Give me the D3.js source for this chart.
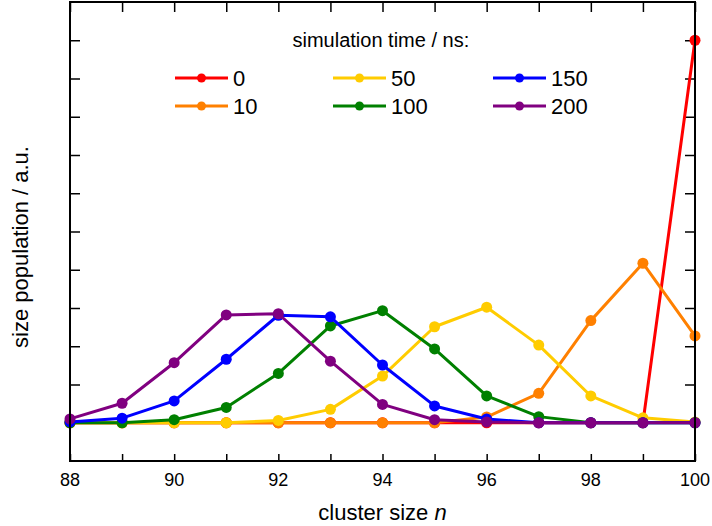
<!DOCTYPE html>
<html>
<head>
<meta charset="utf-8">
<script src="https://cdn.jsdelivr.net/npm/d3@7"></script>
<style>
  html, body { margin: 0; padding: 0; background: #fff; }
  svg { display: block; font-family: "Liberation Sans", Arial, sans-serif; }
</style>
</head>
<body>
<svg id="chart" width="712" height="526"></svg>
<script>
// Cluster sizes on the x axis
const clusterSizes = [88, 89, 90, 91, 92, 93, 94, 95, 96, 97, 98, 99, 100];

// Size population (a.u.) at each simulation time
const pop0   = [0, 0, 0, 0, 0, 0, 0, 0, 0, 0, 0, 0, 10];
const pop10  = [0, 0, 0, 0, 0, 0, 0, 0, 0.15, 0.77, 2.67, 4.17, 2.27];
const pop50  = [0, 0, 0, 0, 0.06, 0.35, 1.22, 2.51, 3.02, 2.03, 0.70, 0.13, 0.02];
const pop100 = [0, 0, 0.08, 0.40, 1.29, 2.53, 2.93, 1.93, 0.70, 0.16, 0, 0, 0];
const pop150 = [0.02, 0.12, 0.57, 1.66, 2.81, 2.77, 1.51, 0.44, 0.10, 0, 0, 0, 0];
const pop200 = [0.10, 0.51, 1.57, 2.82, 2.85, 1.61, 0.48, 0.08, 0.02, 0, 0, 0, 0];

const seriesLabels = ["0", "10", "50", "100", "150", "200"];
const seriesColors = ["#ff0000", "#ff8000", "#ffcc00", "#008000", "#0000ff", "#800080"];
const seriesValues = [pop0, pop10, pop50, pop100, pop150, pop200];

const xTickLabels = [88, 90, 92, 94, 96, 98, 100];
const yTickValues = [0, 1, 2, 3, 4, 5, 6, 7, 8, 9, 10];

const svg = d3.select("#chart");
const plotLeft = 70, plotRight = 695, plotTop = 2, plotBottom = 461;

const x = d3.scaleLinear().domain([88, 100]).range([plotLeft, plotRight]);
const y = d3.scaleLinear().domain([-1, 11]).range([plotBottom, plotTop]);

// Tick marks pointing into the plot on all four sides
const axisG = svg.append("g");
axisG.append("g")
  .attr("transform", `translate(0,${plotBottom})`)
  .call(d3.axisBottom(x).tickValues(clusterSizes).tickSize(-7).tickFormat(""))
  .call(g => g.select(".domain").remove());
axisG.append("g")
  .attr("transform", `translate(0,${plotTop})`)
  .call(d3.axisTop(x).tickValues(clusterSizes).tickSize(-10).tickFormat(""))
  .call(g => g.select(".domain").remove());
axisG.append("g")
  .attr("transform", `translate(${plotLeft},0)`)
  .call(d3.axisLeft(y).tickValues(yTickValues).tickSize(-10).tickFormat(""))
  .call(g => g.select(".domain").remove());
axisG.append("g")
  .attr("transform", `translate(${plotRight},0)`)
  .call(d3.axisRight(y).tickValues(yTickValues).tickSize(-10).tickFormat(""))
  .call(g => g.select(".domain").remove());
axisG.selectAll(".tick line").attr("stroke", "#000").attr("stroke-width", 1.5);

// Bottom tick labels
svg.append("g").selectAll("text")
  .data(xTickLabels)
  .join("text")
  .attr("x", d => x(d))
  .attr("y", 486)
  .attr("text-anchor", "middle")
  .attr("font-size", 18)
  .attr("fill", "#000")
  .text(d => d);

// Data lines and markers
const line = d3.line()
  .x((d, i) => x(clusterSizes[i]))
  .y(d => y(d));

const plotG = svg.append("g");
seriesValues.forEach((vals, si) => {
  const g = plotG.append("g");
  g.append("path")
    .datum(vals)
    .attr("d", line)
    .attr("fill", "none")
    .attr("stroke", seriesColors[si])
    .attr("stroke-width", 3)
    .attr("stroke-linejoin", "round");
  g.selectAll("circle")
    .data(vals)
    .join("circle")
    .attr("cx", (d, i) => x(clusterSizes[i]))
    .attr("cy", d => y(d))
    .attr("r", 5.5)
    .attr("fill", seriesColors[si]);
});

// Plot frame
svg.append("rect")
  .attr("x", plotLeft).attr("y", plotTop)
  .attr("width", plotRight - plotLeft).attr("height", plotBottom - plotTop)
  .attr("fill", "none")
  .attr("stroke", "#000")
  .attr("stroke-width", 2);

// Legend
svg.append("text")
  .attr("x", 292.5).attr("y", 47)
  .attr("font-size", 20)
  .attr("fill", "#000")
  .text("simulation time / ns:");

const legendCols = [175, 333, 493];
const legendRows = [78, 106];
seriesLabels.forEach((lab, i) => {
  const cx = legendCols[Math.floor(i / 2)];
  const cy = legendRows[i % 2];
  const g = svg.append("g").attr("transform", `translate(${cx},${cy})`);
  g.append("line")
    .attr("x1", 0).attr("x2", 53)
    .attr("y1", 0).attr("y2", 0)
    .attr("stroke", seriesColors[i])
    .attr("stroke-width", 3);
  g.append("circle")
    .attr("cx", 26.5).attr("cy", 0).attr("r", 4.5)
    .attr("fill", seriesColors[i]);
  g.append("text")
    .attr("x", 58).attr("y", 8)
    .attr("font-size", 22)
    .attr("fill", "#000")
    .text(lab);
});

// Axis titles
const xTitle = svg.append("text")
  .attr("x", (plotLeft + plotRight) / 2)
  .attr("y", 520)
  .attr("text-anchor", "middle")
  .attr("font-size", 22)
  .attr("fill", "#000");
xTitle.append("tspan").text("cluster size ");
xTitle.append("tspan").attr("font-style", "italic").text("n");

svg.append("text")
  .attr("transform", "translate(28,247) rotate(-90)")
  .attr("text-anchor", "middle")
  .attr("font-size", 22)
  .attr("fill", "#000")
  .text("size population / a.u.");
</script>
</body>
</html>
